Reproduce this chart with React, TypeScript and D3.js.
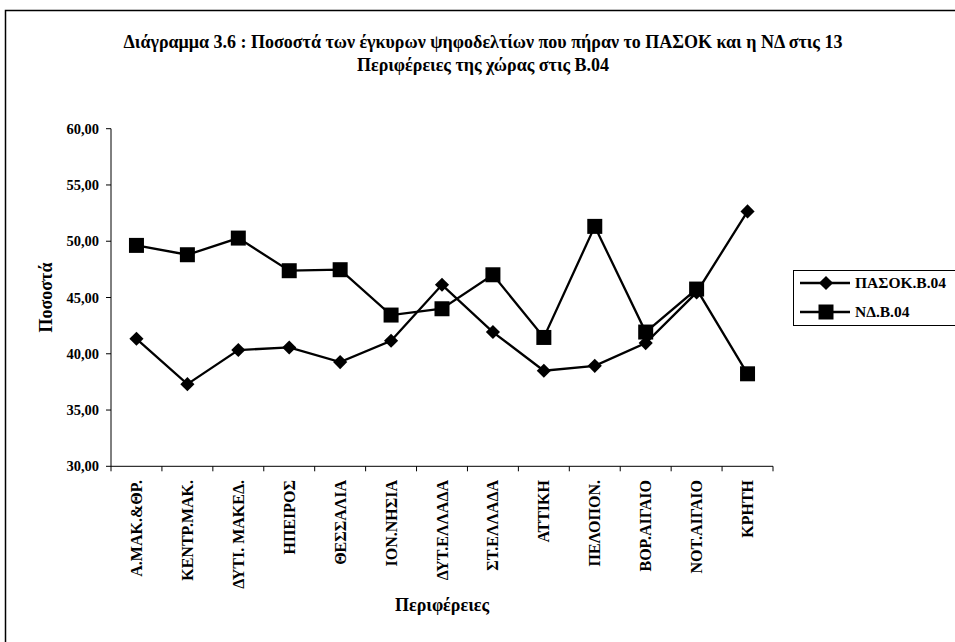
import React from 'react';
import * as d3 from 'd3';

// ── Data ──────────────────────────────────────────────────────────────
const regions = [
  'Α.ΜΑΚ.&ΘΡ.',
  'ΚΕΝΤΡ.ΜΑΚ.',
  'ΔΥΤΙ. ΜΑΚΕΔ.',
  'ΗΠΕΙΡΟΣ',
  'ΘΕΣΣΑΛΙΑ',
  'ΙΟΝ.ΝΗΣΙΑ',
  'ΔΥΤ.ΕΛΛΑΔΑ',
  'ΣΤ.ΕΛΛΑΔΑ',
  'ΑΤΤΙΚΗ',
  'ΠΕΛΟΠΟΝ.',
  'ΒΟΡ.ΑΙΓΑΙΟ',
  'ΝΟΤ.ΑΙΓΑΙΟ',
  'ΚΡΗΤΗ',
];
const pasok = [41.33, 37.3, 40.33, 40.56, 39.26, 41.16, 46.13, 41.93, 38.49, 38.93, 40.95, 45.45, 52.65];
const nd = [49.63, 48.8, 50.28, 47.38, 47.47, 43.44, 44.0, 47.02, 41.45, 51.32, 41.93, 45.75, 38.22];
const yTicks = [30, 35, 40, 45, 50, 55, 60];
const seriesNames = ['ΠΑΣΟΚ.Β.04', 'ΝΔ.Β.04'];

const FONT = '"Liberation Serif", "Times New Roman", serif';

export default function App() {
  const width = 955;
  const height = 642;

  // ── Scales ─────────────────────────────────────────────────────────
  const x = d3.scaleBand<string>().domain(regions).range([111, 773]);
  const y = d3.scaleLinear().domain([30, 60]).range([466.3, 128.7]);
  const cx = (d: string) => (x(d) ?? 0) + x.bandwidth() / 2;

  const line = d3
    .line<number>()
    .x((_, i) => cx(regions[i]))
    .y((v) => y(v));

  const square = d3.symbol(d3.symbolSquare, 225)();
  const diamond = d3.symbol(d3.symbolSquare, 100)();

  const marker = (kind: number, tx: number, ty: number, key?: string | number) =>
    kind === 0 ? (
      <path key={key} d={diamond!} transform={`translate(${tx},${ty}) rotate(45)`} fill="#000" />
    ) : (
      <path key={key} d={square!} transform={`translate(${tx},${ty})`} fill="#000" />
    );

  const boundaries = regions.map((r) => x(r) ?? 0).concat([x.range()[1]]);

  return (
    <div style={{ position: 'absolute', left: 0, top: 0 }}>
      <svg width={width} height={height} style={{ display: 'block', background: '#fff' }} fontFamily={FONT}>
        {/* chart frame */}
        <rect x={5.5} y={10.5} width={1000} height={700} fill="none" stroke="#000" strokeWidth={1.5} />

        {/* title */}
        <text x={483} y={48} textAnchor="middle" fontWeight="bold" fontSize={18}>
          Διάγραμμα 3.6 : Ποσοστά των έγκυρων ψηφοδελτίων που πήραν το ΠΑΣΟΚ και η ΝΔ στις 13
        </text>
        <text x={483} y={71} textAnchor="middle" fontWeight="bold" fontSize={18}>
          Περιφέρειες της χώρας στις Β.04
        </text>

        {/* y axis */}
        <line x1={111} x2={111} y1={y(60)} y2={y(30)} stroke="#000" />
        {yTicks.map((t) => (
          <g key={t}>
            <line x1={106} x2={111} y1={y(t)} y2={y(t)} stroke="#000" />
            <text x={99} y={y(t) + 5} textAnchor="end" fontWeight="bold" fontSize={14.5}>
              {t.toFixed(2).replace('.', ',')}
            </text>
          </g>
        ))}
        <text
          transform={`translate(52,${(y(30) + y(60)) / 2}) rotate(-90)`}
          textAnchor="middle"
          fontWeight="bold"
          fontSize={18}
        >
          Ποσοστά
        </text>

        {/* x axis */}
        <line x1={111} x2={773} y1={y(30)} y2={y(30)} stroke="#000" />
        {boundaries.map((b, i) => (
          <line key={i} x1={b} x2={b} y1={y(30)} y2={y(30) + 5} stroke="#000" />
        ))}
        {regions.map((r) => (
          <text
            key={r}
            transform={`translate(${cx(r) + 5.5},480) rotate(-90)`}
            textAnchor="end"
            fontWeight="bold"
            fontSize={16}
          >
            {r}
          </text>
        ))}
        <text x={442} y={611} textAnchor="middle" fontWeight="bold" fontSize={18}>
          Περιφέρειες
        </text>

        {/* series */}
        <path d={line(pasok)!} fill="none" stroke="#000" strokeWidth={2.3} />
        <path d={line(nd)!} fill="none" stroke="#000" strokeWidth={2.3} />
        {pasok.map((v, i) => marker(0, cx(regions[i]), y(v), 'p' + i))}
        {nd.map((v, i) => marker(1, cx(regions[i]), y(v), 'n' + i))}

        {/* legend */}
        <rect x={793.5} y={270.5} width={200} height={55} fill="#fff" stroke="#000" />
        {seriesNames.map((s, i) => {
          const ly = 283 + i * 29;
          return (
            <g key={s}>
              <line x1={800} x2={850} y1={ly} y2={ly} stroke="#000" strokeWidth={2.3} />
              {marker(i, 826, ly)}
              <text x={855} y={ly + 5} fontWeight="bold" fontSize={15.5}>
                {s}
              </text>
            </g>
          );
        })}
      </svg>
    </div>
  );
}
